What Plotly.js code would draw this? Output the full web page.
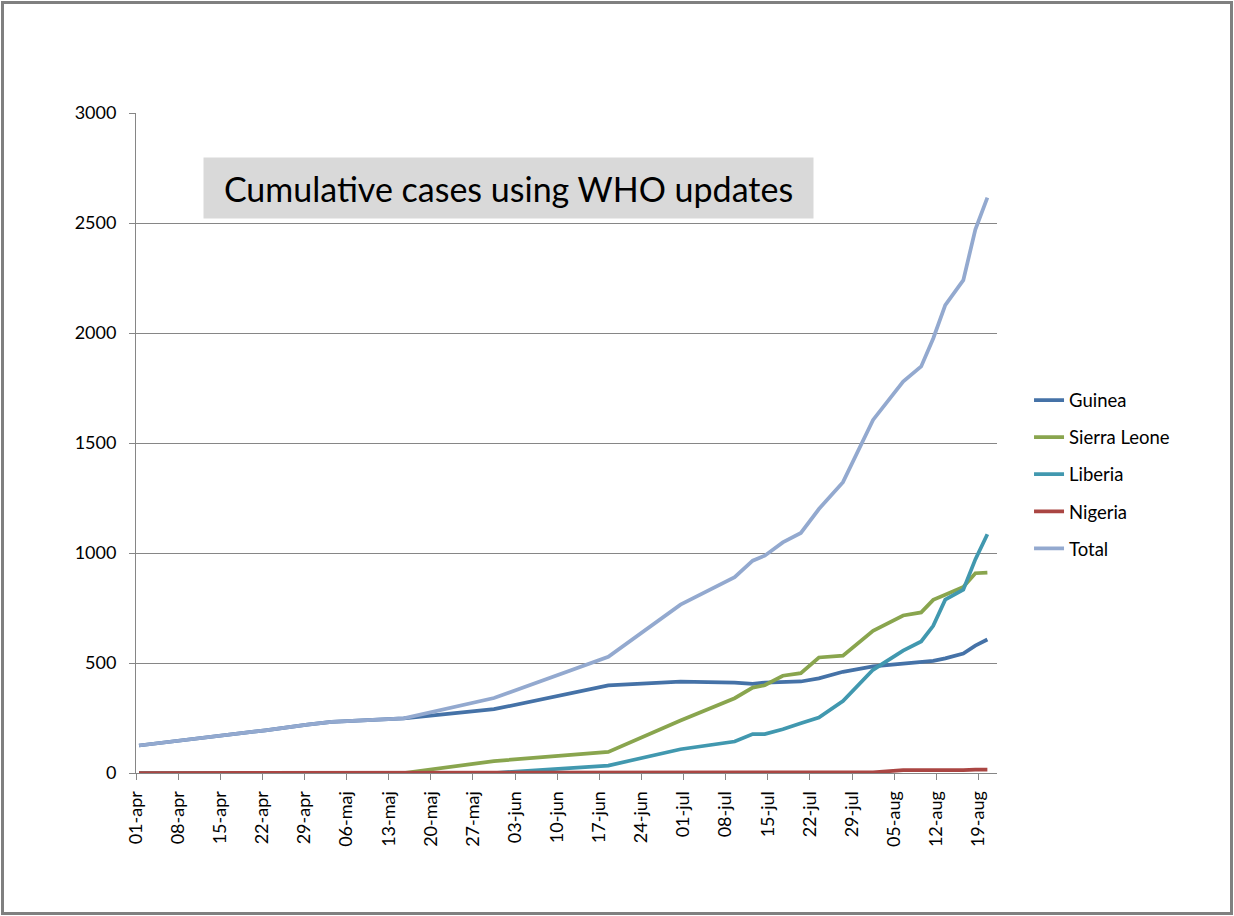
<!DOCTYPE html>
<html>
<head>
<meta charset="utf-8">
<script src="https://cdn.plot.ly/plotly-3.0.1.min.js"></script>
<style>
  html, body { margin: 0; padding: 0; background: #fff; }
  #chart { width: 1234px; height: 916px; }
  #frame {
    position: absolute; left: 1px; top: 1px;
    width: 1226px; height: 908px;
    border: 3px solid #808080; pointer-events: none;
  }
</style>
</head>
<body>
<div id="chart"></div>
<div id="frame"></div>
<script>
  /* WHO update dates (data as of) */
  var dates = [
    '2014-04-01', '2014-04-08', '2014-04-15', '2014-04-22', '2014-04-29',
    '2014-05-03', '2014-05-15', '2014-05-30', '2014-06-18', '2014-06-30',
    '2014-07-09', '2014-07-12', '2014-07-14', '2014-07-17', '2014-07-20',
    '2014-07-23', '2014-07-27', '2014-08-01', '2014-08-06', '2014-08-09',
    '2014-08-11', '2014-08-13', '2014-08-16', '2014-08-18', '2014-08-20'
  ];

  var guinea      = [125, 148, 167, 194, 220, 232, 248, 290, 398, 415, 411, 405, 411, 412, 416, 430, 460, 485, 497, 505, 510, 521, 543, 579, 607];
  var sierraLeone = [0, 0, 0, 0, 0, 0, 0, 54, 96, 239, 340, 388, 399, 442, 454, 525, 533, 646, 716, 730, 787, 810, 846, 908, 911];
  var liberia     = [0, 0, 0, 0, 0, 0, 0, 0, 34, 108, 143, 177, 177, 199, 226, 252, 327, 469, 556, 598, 669, 788, 833, 971, 1085];
  var nigeria     = [0, 0, 0, 0, 0, 0, 0, 0, 0, 0, 0, 0, 0, 0, 0, 0, 1, 3, 13, 13, 10, 10, 13, 15, 15];
  var total       = [125, 148, 167, 194, 220, 232, 248, 341, 528, 765, 890, 965, 988, 1048, 1091, 1200, 1322, 1605, 1779, 1848, 1975, 2127, 2240, 2470, 2615];

  var tickDates = [
    '2014-04-01', '2014-04-08', '2014-04-15', '2014-04-22', '2014-04-29',
    '2014-05-06', '2014-05-13', '2014-05-20', '2014-05-27', '2014-06-03',
    '2014-06-10', '2014-06-17', '2014-06-24', '2014-07-01', '2014-07-08',
    '2014-07-15', '2014-07-22', '2014-07-29', '2014-08-05', '2014-08-12',
    '2014-08-19'
  ];
  var tickLabels = [
    '01-apr', '08-apr', '15-apr', '22-apr', '29-apr',
    '06-maj', '13-maj', '20-maj', '27-maj', '03-jun',
    '10-jun', '17-jun', '24-jun', '01-jul', '08-jul',
    '15-jul', '22-jul', '29-jul', '05-aug', '12-aug',
    '19-aug'
  ];

  var FONT = 'Lato, "Liberation Sans", sans-serif';
  var GRID = '#868686';

  /* points sit in the middle of their day slot, like the Excel date axis */
  var xs = dates.map(function (d) { return d + ' 12:00'; });

  function series(name, values, color) {
    return {
      x: xs, y: values, name: name, legendgroup: name,
      type: 'scatter', mode: 'lines',
      line: { color: color, width: 3.75 },
      hoverinfo: 'skip'
    };
  }

  var traces = [
    series('Guinea', guinea, '#4572A7'),
    series('Sierra Leone', sierraLeone, '#89A54E'),
    series('Liberia', liberia, '#4198AF'),
    series('Nigeria', nigeria, '#AA4643'),
    series('Total', total, '#93A9CF')
  ];

  var layout = {
    width: 1234, height: 916,
    margin: { l: 136, r: 237, t: 113, b: 143 },
    paper_bgcolor: '#fff', plot_bgcolor: '#fff',
    font: { family: FONT, size: 18, color: '#000' },
    xaxis: {
      type: 'date',
      range: ['2014-04-01', '2014-08-22 02:24'],
      tickmode: 'array', tickvals: tickDates, ticktext: tickLabels,
      tickangle: -90,
      ticks: 'outside', ticklen: 6, tickcolor: GRID,
      ticklabelstandoff: 4,
      showgrid: false, zeroline: false,
      showline: true, linecolor: GRID, linewidth: 1,
      tickfont: { family: FONT, size: 18, color: '#000' },
      fixedrange: true
    },
    yaxis: {
      range: [0, 3000], dtick: 500,
      ticks: 'outside', ticklen: 6, tickcolor: GRID,
      ticklabelstandoff: 9,
      showgrid: true, gridcolor: GRID, gridwidth: 1,
      zeroline: false,
      showline: true, linecolor: GRID, linewidth: 1,
      tickfont: { family: FONT, size: 18, color: '#000' },
      fixedrange: true
    },
    legend: {
      x: 1.0372, xanchor: 'left',
      y: 0.593, yanchor: 'top',
      traceorder: 'grouped',
      tracegroupgap: 10,
      itemwidth: 30,
      bgcolor: 'rgba(0,0,0,0)',
      font: { family: FONT, size: 18.5, color: '#000' }
    },
    annotations: [{
      xref: 'paper', yref: 'paper',
      x: 0.0778, y: 0.9333, xanchor: 'left', yanchor: 'top',
      width: 609, height: 60, borderpad: 0,
      text: 'Cumulative cases using WHO updates',
      showarrow: false, align: 'center',
      bgcolor: '#D9D9D9',
      font: { family: FONT, size: 34, color: '#000' }
    }],
    showlegend: true
  };

  Plotly.newPlot('chart', traces, layout, { displayModeBar: false, staticPlot: true });
</script>
</body>
</html>
